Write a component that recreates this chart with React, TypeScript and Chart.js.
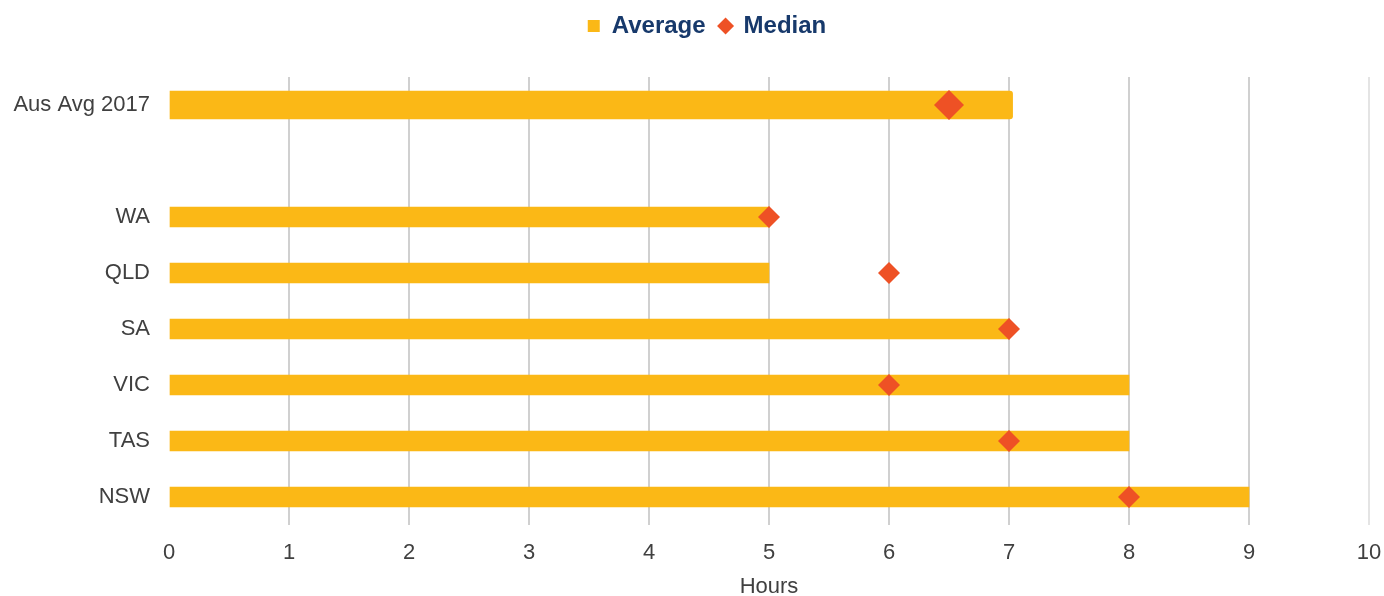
import React, { useEffect, useRef } from 'react';
import { Chart, registerables } from 'chart.js';

Chart.register(...registerables);

const categories = ['Aus Avg 2017', '', 'WA', 'QLD', 'SA', 'VIC', 'TAS', 'NSW'];
const ausAverage = [7.03, null, null, null, null, null, null, null];
const stateAverage = [null, null, 5, 5, 7, 8, 8, 9];
const medianValues = [6.5, null, 5, 6, 7, 6, 7, 8];
const xMin = 0;
const xMax = 10;
const xStep = 1;
const xTitle = 'Hours';

const BAR_COLOR = '#FBB816';
const DIAMOND_COLOR = '#EE5125';
const LEGEND_COLOR = '#17396B';
const TEXT_COLOR = '#404040';
const FONT = '"Liberation Sans", Arimo, sans-serif';
const LEGEND_HEIGHT = 77;
const LEGEND_SHIFT = 15;
const Y_AXIS_WIDTH = 169;
const X_AXIS_HEIGHT = 71;
const RIGHT_PAD = 15;

const legendSpacer = {
  id: 'legendSpacer',
  beforeLayout(chart: any) {
    const legend = chart.legend;
    if (legend && !legend._patched) {
      const orig = legend.fit.bind(legend);
      legend.fit = function () {
        orig();
        this.height = LEGEND_HEIGHT;
      };
      legend._patched = true;
    }
  },
  afterLayout(chart: any) {
    const legend = chart.legend;
    if (legend) {
      legend.left += LEGEND_SHIFT;
      legend.right += LEGEND_SHIFT;
    }
  },
};

export default function App() {
  const ref = useRef<HTMLCanvasElement>(null);

  useEffect(() => {
    Chart.defaults.font.family = FONT;
    const chart = new Chart(ref.current!, {
      type: 'bar',
      data: {
        labels: categories,
        datasets: [
          {
            type: 'bar',
            label: 'Average',
            data: ausAverage as any,
            backgroundColor: BAR_COLOR,
            barThickness: 28,
            grouped: false,
            borderRadius: 3,
            order: 1,
          } as any,
          {
            type: 'bar',
            label: '',
            data: stateAverage as any,
            backgroundColor: BAR_COLOR,
            barThickness: 20,
            grouped: false,
            order: 1,
          } as any,
          {
            type: 'line',
            label: 'Median',
            data: medianValues as any,
            showLine: false,
            pointStyle: 'rectRot',
            pointRadius: (ctx: any) => (ctx.dataIndex === 0 ? 15 : 11),
            pointHoverRadius: (ctx: any) => (ctx.dataIndex === 0 ? 15 : 11),
            pointBackgroundColor: DIAMOND_COLOR,
            backgroundColor: DIAMOND_COLOR,
            borderColor: DIAMOND_COLOR,
            pointBorderWidth: 0,
            borderWidth: 0,
            order: 0,
          } as any,
        ],
      },
      options: {
        indexAxis: 'y',
        animation: false,
        responsive: true,
        maintainAspectRatio: false,
        layout: { padding: { top: 0, right: 0, bottom: 0, left: 0 } },
        plugins: {
          tooltip: { enabled: false },
          legend: {
            position: 'top',
            labels: {
              usePointStyle: true,
              boxWidth: 12,
              boxHeight: 12,
              color: LEGEND_COLOR,
              font: { size: 24, weight: 'bold', family: FONT },
              padding: 14,
              filter: (item: any) => item.text !== '',
              sort: (a: any, b: any) => a.datasetIndex - b.datasetIndex,
              generateLabels: (c: any) => {
                const items = (Chart.defaults.plugins.legend.labels as any).generateLabels(c);
                return items.map((it: any) => ({
                  ...it,
                  pointStyle: it.datasetIndex === 2 ? 'rectRot' : 'rect',
                  fillStyle: it.datasetIndex === 2 ? DIAMOND_COLOR : BAR_COLOR,
                  strokeStyle: 'transparent',
                  lineWidth: 0,
                }));
              },
            },
          },
        },
        scales: {
          x: {
            type: 'linear',
            min: xMin,
            max: xMax,
            afterFit: (scale: any) => {
              scale.height = X_AXIS_HEIGHT;
              scale.paddingLeft = 0;
              scale.paddingRight = RIGHT_PAD;
            },
            ticks: {
              stepSize: xStep,
              color: TEXT_COLOR,
              font: { size: 22, family: FONT },
              padding: 15,
            },
            grid: {
              drawTicks: false,
              lineWidth: 2,
              color: (ctx: any) =>
                ctx.tick && ctx.tick.value === xMin
                  ? 'rgba(0,0,0,0)'
                  : ctx.tick && ctx.tick.value === xMax
                  ? '#E4E4E4'
                  : '#D0D0D0',
            },
            border: { display: false },
            title: {
              display: true,
              text: xTitle,
              color: TEXT_COLOR,
              font: { size: 22, family: FONT, lineHeight: 0.8 },
              padding: { top: 4, bottom: 0 },
            },
          },
          y: {
            type: 'category',
            afterFit: (scale: any) => {
              scale.width = Y_AXIS_WIDTH;
              scale.paddingTop = 0;
              scale.paddingBottom = 0;
            },
            grid: { display: false, drawTicks: false },
            border: { display: false },
            ticks: {
              color: TEXT_COLOR,
              font: { size: 22, family: FONT },
              padding: 19,
            },
          },
        },
      },
      plugins: [legendSpacer],
    } as any);
    return () => chart.destroy();
  }, []);

  return (
    <div style={{ position: 'fixed', left: 0, top: 0, width: 1384, height: 596 }}>
      <canvas ref={ref} />
    </div>
  );
}
